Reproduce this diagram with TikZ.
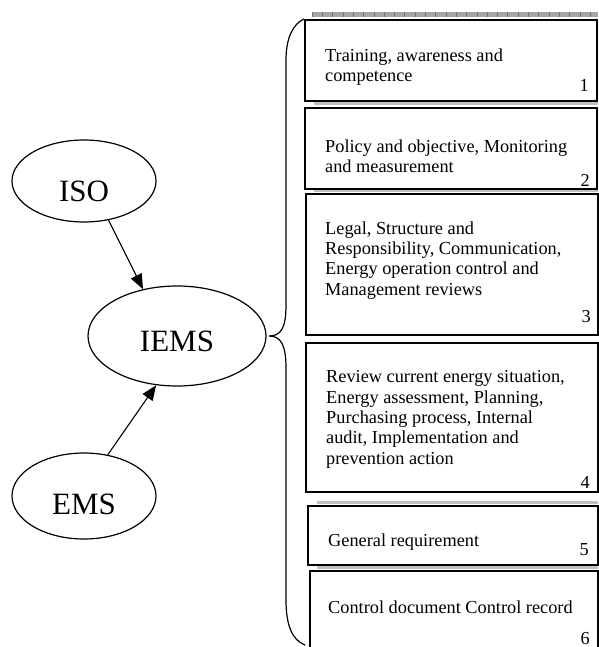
\documentclass[tikz,border=0pt]{standalone}
\usepackage{fontspec}
\setmainfont{Liberation Serif}
\usetikzlibrary{shapes.geometric,arrows.meta}
\begin{document}
\begin{tikzpicture}[x=1pt,y=-1pt,
  ell/.style={ellipse,draw,line width=1.2pt,inner sep=0pt,font=\fontsize{31}{31}\selectfont},
  boxnode/.style={draw,line width=1.6pt,inner sep=0pt,anchor=north west},
  txt/.style={anchor=north west,align=left,inner sep=0pt,font=\fontsize{18.3}{20.3}\selectfont},
  num/.style={anchor=base east,inner sep=0pt,font=\fontsize{18.3}{20.3}\selectfont},
  strip/.style={fill=black!35,draw=none},
  thinstrip/.style={fill=black!25,draw=none},
  arr/.style={line width=1.1pt,-{Triangle[length=15pt,width=12pt]}}]
\useasboundingbox (0,0) rectangle (598,647);
% shadow strips
\fill[strip] (312,12) rectangle (598,17.5);
\foreach \i in {0,...,27} {\draw[black!55,line width=0.5pt] (312+\i*10.3,12) -- (312+\i*10.3,17.5);}
\fill[thinstrip] (314,102.5) rectangle (598,105);
\fill[thinstrip] (314,189.5) rectangle (598,192);
\fill[thinstrip] (317,501) rectangle (598,503.5);
\fill[thinstrip] (317,566) rectangle (598,568.5);
% boxes
\node[boxnode,minimum width=292pt,minimum height=81pt] (b1) at (304,19) {};
\node[boxnode,minimum width=292pt,minimum height=81pt] (b2) at (304,107) {};
\node[boxnode,minimum width=292pt,minimum height=141pt] (b3) at (305,193) {};
\node[boxnode,minimum width=292pt,minimum height=149pt] (b4) at (305,342) {};
\node[boxnode,minimum width=290pt,minimum height=59pt] (b5) at (307,505) {};
\node[boxnode,minimum width=288pt,minimum height=90pt] (b6) at (309,570) {};
% texts
\node[txt] (t1) at (325,48.5) {Training, awareness and\\competence};
\node[txt] (t2) at (325,139.5) {Policy and objective, Monitoring\\and measurement};
\node[txt] (t3) at (325,221.5) {Legal, Structure and\\Responsibility, Communication,\\Energy operation control and\\Management reviews};
\node[txt] (t4) at (326,370.5) {Review current energy situation,\\Energy assessment, Planning,\\Purchasing process, Internal\\audit, Implementation and\\prevention action};
\node[txt] (t5) at (328,533.5) {General requirement};
\node[txt] (t6) at (328,600.5) {Control document Control record};
% numbers
\node[num] (n1) at (589,92) {1};
\node[num] (n2) at (590,186) {2};
\node[num] (n3) at (591,322) {3};
\node[num] (n4) at (590,488) {4};
\node[num] (n5) at (589,555) {5};
\node[num] (n6) at (590,644) {6};
% ellipses
\node[ell,minimum width=144pt,minimum height=82pt,text height=41pt] (iso) at (84,181) {ISO};
\node[ell,minimum width=178pt,minimum height=100pt,text height=32pt] (iems) at (177,336) {IEMS};
\node[ell,minimum width=144pt,minimum height=86pt,text height=38pt] (ems) at (84,496) {EMS};
% arrows
\draw[arr] (iso.-58) -- (iems.126);
\draw[arr] (ems.60) -- (iems.-113);
% brace
\coordinate (tip) at (269,336);
\draw[line width=1.2pt] (b1.north west) .. controls (293,24) and (286,38) .. (286,60) -- (286,305)
  .. controls (286,328) and (281,336) .. (tip)
  .. controls (281,336) and (286,345) .. (286,368) -- (286,600)
  .. controls (286,625) and (292,640) .. (305,645);
\end{tikzpicture}
\end{document}
